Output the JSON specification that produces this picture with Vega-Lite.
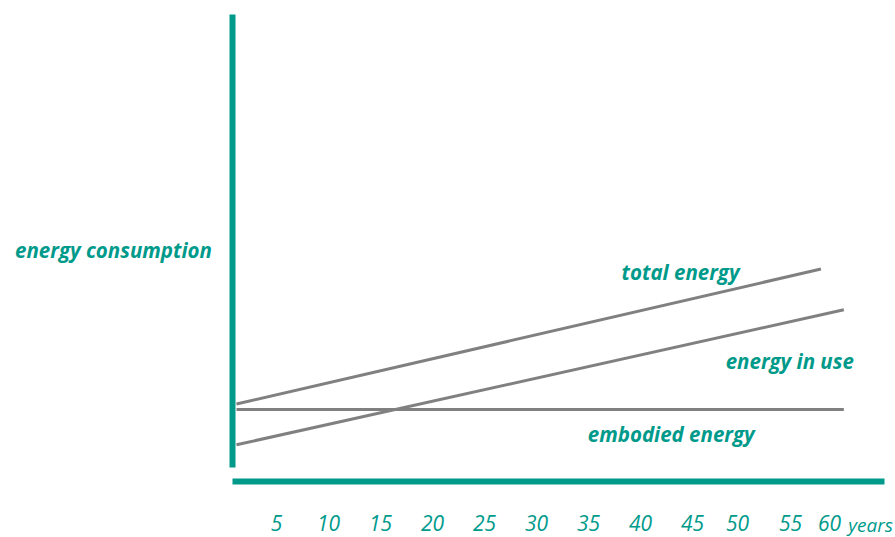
{
  "$schema": "https://vega.github.io/schema/vega-lite/v6.json",
  "width": 652,
  "height": 453,
  "autosize": {"type": "none"},
  "padding": {"left": 232, "top": 14, "right": 11, "bottom": 70},
  "background": "white",
  "config": {"view": {"stroke": null}},
  "datasets": {
    "lines": [
      {"series": "total energy", "year": 1.2, "energy": 13.9},
      {"series": "total energy", "year": 57.4, "energy": 43.7},
      {"series": "energy in use", "year": 1.2, "energy": 4.9},
      {"series": "energy in use", "year": 59.6, "energy": 34.7},
      {"series": "embodied energy", "year": 1.2, "energy": 12.7},
      {"series": "embodied energy", "year": 59.6, "energy": 12.7}
    ],
    "labels": [
      {"label": "total energy", "year": 43.9, "energy": 42.6},
      {"label": "energy in use", "year": 54.4, "energy": 23.0},
      {"label": "embodied energy", "year": 43.0, "energy": 6.8}
    ]
  },
  "layer": [
    {
      "data": {"name": "lines"},
      "mark": {"type": "line", "color": "#808080", "strokeWidth": 3},
      "encoding": {
        "x": {
          "field": "year",
          "type": "quantitative",
          "scale": {"domain": [0.77, 63.46], "nice": false, "zero": false},
          "axis": {
            "orient": "bottom",
            "offset": 14,
            "values": [5, 10, 15, 20, 25, 30, 35, 40, 45, 50, 55, 60],
            "domainColor": "#009a8b",
            "domainWidth": 6,
            "ticks": false,
            "tickSize": 0,
            "grid": false,
            "labelPadding": 43,
            "labelBaseline": "middle",
            "labelFont": "Open Sans",
            "labelFontStyle": "italic",
            "labelFontWeight": "normal",
            "labelFontSize": 21,
            "labelColor": "#009a8b",
            "labelOffset": {"expr": "datum.value == 50 ? -7 : datum.value == 55 ? -6 : datum.value == 60 ? -19 : 0"},
            "labelOverlap": false,
            "labelFlush": false,
            "title": "years",
            "titleX": 638,
            "titleY": 44,
            "titleAlign": "center",
            "titleBaseline": "middle",
            "titleFont": "Open Sans",
            "titleFontStyle": "italic",
            "titleFontWeight": "normal",
            "titleFontSize": 19,
            "titleColor": "#009a8b"
          }
        },
        "y": {
          "field": "energy",
          "type": "quantitative",
          "scale": {"domain": [0, 100], "nice": false},
          "axis": {
            "domainColor": "#009a8b",
            "domainWidth": 6,
            "ticks": false,
            "labels": false,
            "grid": false,
            "title": "energy consumption",
            "titleAngle": 0,
            "titleX": -119,
            "titleY": 237,
            "titleAlign": "center",
            "titleBaseline": "middle",
            "titleFont": "Open Sans",
            "titleFontStyle": "italic",
            "titleFontWeight": "bold",
            "titleFontSize": 20.5,
            "titleColor": "#009a8b"
          }
        },
        "detail": {"field": "series", "type": "nominal"}
      }
    },
    {
      "data": {"name": "labels"},
      "mark": {
        "type": "text",
        "font": "Open Sans",
        "fontStyle": "italic",
        "fontWeight": "bold",
        "fontSize": 20.5,
        "color": "#009a8b",
        "align": "center",
        "baseline": "middle"
      },
      "encoding": {
        "x": {"field": "year", "type": "quantitative"},
        "y": {"field": "energy", "type": "quantitative"},
        "text": {"field": "label", "type": "nominal"}
      }
    }
  ]
}
